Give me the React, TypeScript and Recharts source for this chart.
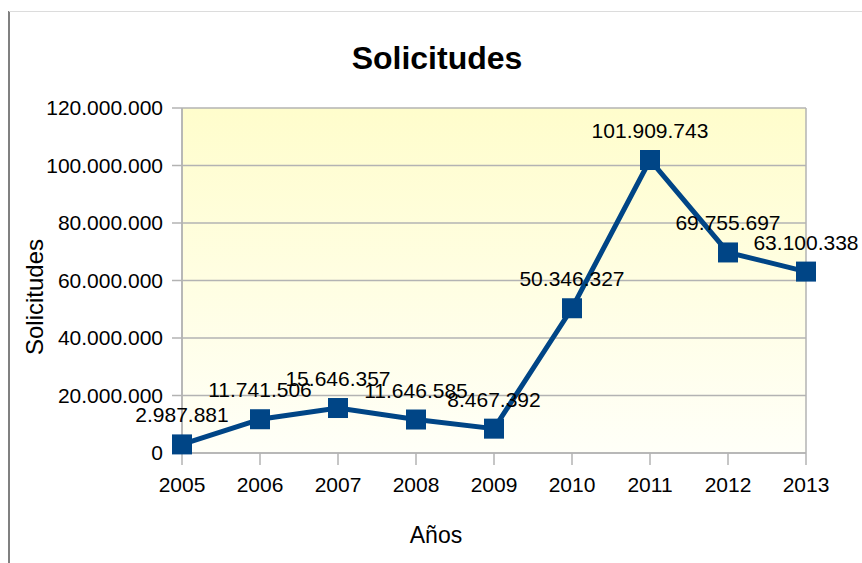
import { CartesianGrid, LabelList, Line, LineChart, XAxis, YAxis } from "recharts";

const YEARS = ["2005", "2006", "2007", "2008", "2009", "2010", "2011", "2012", "2013"];
const SOLICITUDES = [
  2987881, 11741506, 15646357, 11646585, 8467392, 50346327, 101909743, 69755697, 63100338,
];
const Y_TICKS = [0, 20000000, 40000000, 60000000, 80000000, 100000000, 120000000];

const data = YEARS.map((year, i) => ({ year, value: SOLICITUDES[i] }));

const FONT = "'Liberation Sans', Arial, sans-serif";
const LINE_COLOR = "#004586";
const GRID = "#b3b3b3";

const formatNumber = (v: number) => String(v).replace(/\B(?=(\d{3})+(?!\d))/g, ".");

const SquareDot = (props: any) => {
  const { cx, cy, index } = props;
  if (cx == null || cy == null) return null;
  return <rect key={`dot-${index}`} x={cx - 10} y={cy - 10} width={20} height={20} fill={LINE_COLOR} />;
};

export default function App() {
  return (
    <div
      style={{
        position: "absolute",
        left: 0,
        top: 0,
        width: 862,
        height: 563,
        background: "#fff",
        fontFamily: FONT,
      }}
    >
      <div style={{ position: "absolute", left: 8, top: 11, width: 2, height: 552, background: "#808080" }} />
      <div style={{ position: "absolute", left: 9, top: 11, width: 853, height: 1, background: "#dcdcdc" }} />
      <div
        style={{
          position: "absolute",
          left: 237,
          top: 40,
          width: 400,
          textAlign: "center",
          fontSize: 32,
          fontWeight: "bold",
          color: "#000",
        }}
      >
        Solicitudes
      </div>
      <LineChart
        width={862}
        height={563}
        data={data}
        margin={{ top: 108, right: 56, left: 0, bottom: 0 }}
        style={{ fontFamily: FONT }}
      >
        <defs>
          <linearGradient id="plotBg" x1="0" y1="0" x2="0" y2="1">
            <stop offset="0%" stopColor="#fffdcc" />
            <stop offset="100%" stopColor="#fffff8" />
          </linearGradient>
        </defs>
        <CartesianGrid
          fill="url(#plotBg)"
          stroke={GRID}
          strokeWidth={1.5}
          verticalCoordinatesGenerator={({ offset }: any) => [offset.left, offset.left + offset.width]}
        />
        <XAxis
          dataKey="year"
          height={110}
          tickSize={12}
          tickMargin={12}
          tick={{ fontSize: 21, fill: "#000" }}
          axisLine={{ stroke: GRID, strokeWidth: 1.5 }}
          tickLine={{ stroke: GRID, strokeWidth: 1.5 }}
          label={{
            content: () => (
              <text x={436} y={543} textAnchor="middle" fontSize={23} fill="#000">
                Años
              </text>
            ),
          }}
        />
        <YAxis
          width={182}
          domain={[0, 120000000]}
          ticks={Y_TICKS}
          tickFormatter={formatNumber}
          tickSize={10}
          tickMargin={9}
          tick={{ fontSize: 21, fill: "#000" }}
          axisLine={{ stroke: GRID, strokeWidth: 1.5 }}
          tickLine={{ stroke: GRID, strokeWidth: 1.5 }}
          label={{
            content: () => (
              <text
                x={43}
                y={297}
                textAnchor="middle"
                fontSize={24}
                fill="#000"
                transform="rotate(-90 43 297)"
              >
                Solicitudes
              </text>
            ),
          }}
        />
        <Line
          type="linear"
          dataKey="value"
          stroke={LINE_COLOR}
          strokeWidth={5}
          dot={SquareDot}
          activeDot={false}
          isAnimationActive={false}
        >
          <LabelList
            dataKey="value"
            position="top"
            offset={22}
            formatter={(v: any) => formatNumber(Number(v))}
            style={{ fontSize: 21, fill: "#000" }}
          />
        </Line>
      </LineChart>
    </div>
  );
}
